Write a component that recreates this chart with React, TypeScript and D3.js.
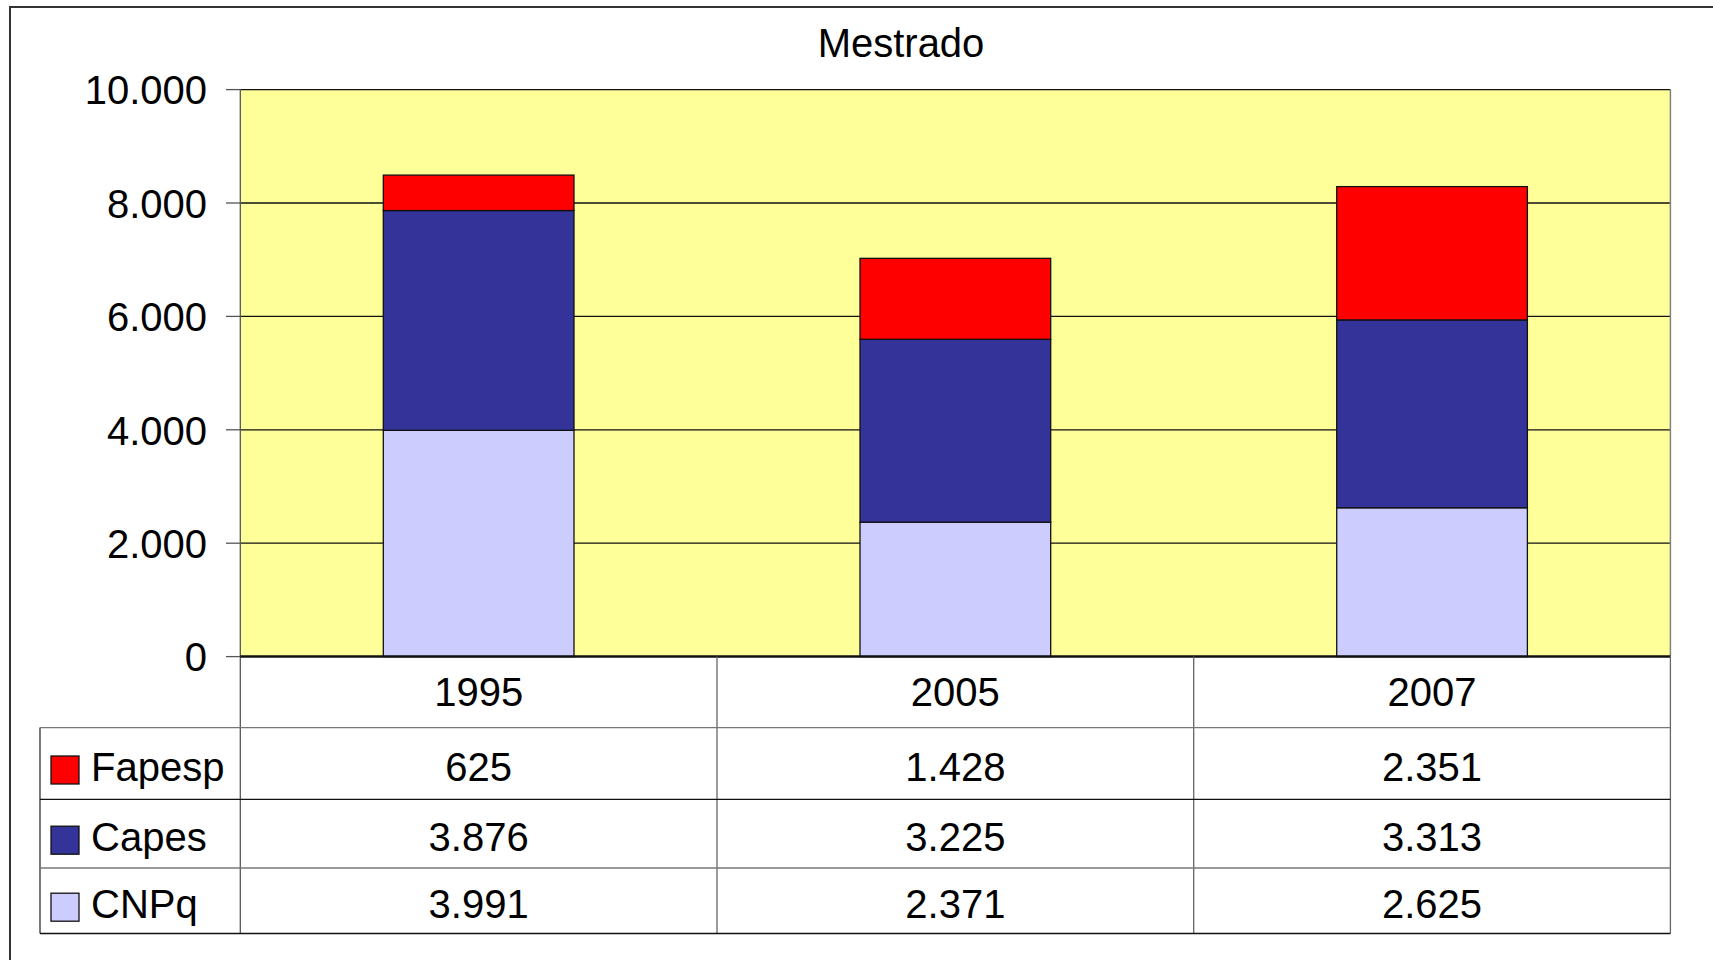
import React from "react";
import * as d3 from "d3";

const years = ["1995", "2005", "2007"];
const seriesNames = ["Fapesp", "Capes", "CNPq"];
const fapesp = [625, 1428, 2351];
const capes = [3876, 3225, 3313];
const cnpq = [3991, 2371, 2625];
const yTicks = [0, 2000, 4000, 6000, 8000, 10000];
const colors: Record<string, string> = { Fapesp: "#FF0000", Capes: "#333399", CNPq: "#CCCCFF" };

const W = 1713;
const H = 960;
const FONT = "'Liberation Sans', Arial, sans-serif";
const FS = 40;

const fmt = (v: number) => {
  const s = String(v);
  return s.replace(/\B(?=(\d{3})+(?!\d))/g, ".");
};

export default function App() {
  const left = 240.3, right = 1670.4, top = 89.6, bottom = 656.6;
  const x = d3.scaleBand<string>().domain(years).range([left, right]).padding(0);
  const y = d3.scaleLinear().domain([0, 10000]).range([bottom, top]);
  const barW = x.bandwidth() * 0.4;

  const rows = years.map((yr, i) => ({ year: yr, CNPq: cnpq[i], Capes: capes[i], Fapesp: fapesp[i] }));
  const stack = d3.stack<any>().keys(["CNPq", "Capes", "Fapesp"]);
  const stacked = stack(rows);

  const tableLines = [727.6, 799.4, 868, 933.5];
  const tableRowValues: Record<string, number[]> = { Fapesp: fapesp, Capes: capes, CNPq: cnpq };
  const rowCenters = [763.5, 833.7, 900.7];
  const legendLeft = 40;

  return (
    <svg width={W} height={H} style={{ position: "absolute", left: 0, top: 0, display: "block", background: "#fff" }}>
      <rect x={0} y={0} width={W} height={H} fill="#fff" />
      {/* outer border */}
      <rect x={10} y={7} width={2000} height={2000} fill="none" stroke="#333" strokeWidth={2} />
      {/* title */}
      <text x={901} y={56.5} textAnchor="middle" fontFamily={FONT} fontSize={FS} fill="#000">Mestrado</text>

      {/* plot area */}
      <rect x={left} y={top} width={right - left} height={bottom - top} fill="#FFFF99" />
      {/* gridlines */}
      {yTicks.filter((t) => t > 0).map((t) => (
        <line key={t} x1={left} x2={right} y1={y(t)} y2={y(t)} stroke="#111" strokeWidth={1.3} />
      ))}
      <line x1={right} x2={right} y1={top} y2={bottom} stroke="#808080" strokeWidth={1.5} />

      {/* bars */}
      {stacked.map((layer) =>
        layer.map((d, i) => (
          <rect
            key={layer.key + i}
            x={(x(years[i]) as number) + (x.bandwidth() - barW) / 2}
            y={y(d[1])}
            width={barW}
            height={y(d[0]) - y(d[1])}
            fill={colors[layer.key]}
            stroke="#111"
            strokeWidth={1.3}
          />
        ))
      )}

      {/* y axis */}
      <line x1={left} x2={left} y1={top} y2={tableLines[3]} stroke="#555" strokeWidth={1.3} />
      {yTicks.map((t) => (
        <g key={t}>
          <line x1={226} x2={left} y1={y(t)} y2={y(t)} stroke="#555" strokeWidth={1.3} />
          <text x={207} y={y(t) + 14.8} textAnchor="end" fontFamily={FONT} fontSize={FS} fill="#000">
            {fmt(t)}
          </text>
        </g>
      ))}
      {/* x axis line */}
      <line x1={left} x2={right} y1={bottom} y2={bottom} stroke="#111" strokeWidth={2.5} />

      {/* data table */}
      {years.map((yr) => (
        <line key={"v" + yr} x1={(x(yr) as number) + x.bandwidth()} x2={(x(yr) as number) + x.bandwidth()} y1={bottom} y2={tableLines[3]} stroke="#666" strokeWidth={1.3} />
      ))}
      <line x1={legendLeft} x2={legendLeft} y1={tableLines[0]} y2={tableLines[3]} stroke="#333" strokeWidth={1.3} />
      {tableLines.map((ly, i) => (
        <line key={"h" + i} x1={legendLeft} x2={right} y1={ly} y2={ly} stroke={i % 2 === 0 ? "#777" : "#111"} strokeWidth={1.3} />
      ))}
      {years.map((yr) => (
        <text key={"hd" + yr} x={(x(yr) as number) + x.bandwidth() / 2} y={705.8} textAnchor="middle" fontFamily={FONT} fontSize={FS} fill="#000">
          {yr}
        </text>
      ))}
      {seriesNames.map((name, r) => (
        <g key={name}>
          <rect x={51} y={rowCenters[r] - 7.5} width={28} height={28} fill={colors[name]} stroke="#111" strokeWidth={1.3} />
          <text x={91} y={rowCenters[r] + 17.5} fontFamily={FONT} fontSize={FS} fill="#000">{name}</text>
          {years.map((yr, i) => (
            <text key={yr} x={(x(yr) as number) + x.bandwidth() / 2} y={rowCenters[r] + 17.5} textAnchor="middle" fontFamily={FONT} fontSize={FS} fill="#000">
              {fmt(tableRowValues[name][i])}
            </text>
          ))}
        </g>
      ))}
    </svg>
  );
}
